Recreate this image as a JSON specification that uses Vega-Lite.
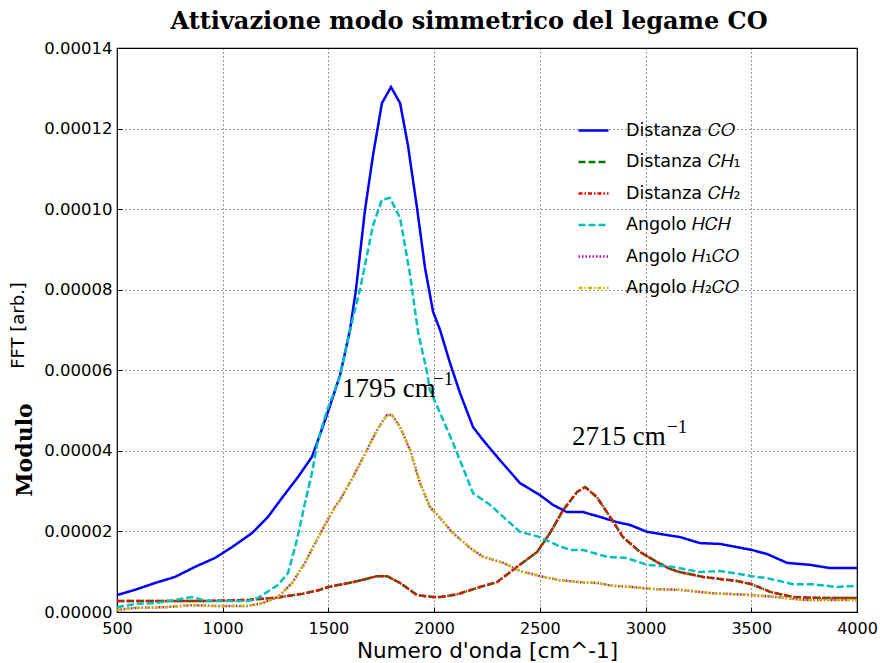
{
  "$schema": "https://vega.github.io/schema/vega-lite/v6.json",
  "width": 740,
  "height": 564,
  "autosize": {"type": "none"},
  "padding": {"left": 117, "top": 48, "right": 23, "bottom": 51},
  "background": "white",
  "title": {"text": "Attivazione modo simmetrico del legame CO", "font": "DejaVu Serif", "fontSize": 24, "fontWeight": "bold", "color": "black", "offset": 6, "dx": -18},
  "config": {
    "view": {"stroke": "black", "strokeWidth": 1.2},
    "axis": {
      "domain": false,
      "grid": true,
      "gridColor": "#000000",
      "gridDash": [1, 3],
      "gridOpacity": 0.8,
      "gridWidth": 1,
      "ticks": true,
      "tickColor": "#000000",
      "tickSize": -5,
      "labelFont": "DejaVu Sans",
      "labelFontSize": 17,
      "labelColor": "#000000",
      "labelFlush": false,
      "titleColor": "#000000",
      "titleFont": "DejaVu Sans",
      "titleFontWeight": "normal",
      "titleFontSize": 18
    },
    "legend": {
      "orient": "none",
      "legendX": 460,
      "legendY": 66,
      "padding": 0,
      "symbolType": "stroke",
      "symbolSize": 900,
      "symbolStrokeWidth": 2.5,
      "rowPadding": 6.5,
      "labelFont": "DejaVu Sans",
      "labelFontSize": 17.5,
      "labelColor": "#000000",
      "labelOffset": 16,
      "labelLimit": 300
    }
  },
  "layer": [
    {
      "data": {"values": [
        {"s":"CO","x":500,"y":0.42e-5},{"s":"CO","x":585,"y":0.55e-5},{"s":"CO","x":680,"y":0.72e-5},{"s":"CO","x":774,"y":0.87e-5},{"s":"CO","x":869,"y":1.12e-5},{"s":"CO","x":963,"y":1.34e-5},{"s":"CO","x":1044,"y":1.61e-5},{"s":"CO","x":1139,"y":1.96e-5},{"s":"CO","x":1214,"y":2.36e-5},{"s":"CO","x":1280,"y":2.83e-5},{"s":"CO","x":1356,"y":3.35e-5},{"s":"CO","x":1422,"y":3.85e-5},{"s":"CO","x":1451,"y":4.27e-5},{"s":"CO","x":1500,"y":5.0e-5},{"s":"CO","x":1555,"y":5.88e-5},{"s":"CO","x":1602,"y":7.0e-5},{"s":"CO","x":1630,"y":7.99e-5},{"s":"CO","x":1673,"y":9.98e-5},{"s":"CO","x":1711,"y":11.34e-5},{"s":"CO","x":1753,"y":12.63e-5},{"s":"CO","x":1796,"y":13.03e-5},{"s":"CO","x":1839,"y":12.63e-5},{"s":"CO","x":1876,"y":11.59e-5},{"s":"CO","x":1919,"y":10.03e-5},{"s":"CO","x":1957,"y":8.54e-5},{"s":"CO","x":1995,"y":7.45e-5},{"s":"CO","x":2028,"y":7.0e-5},{"s":"CO","x":2075,"y":6.18e-5},{"s":"CO","x":2122,"y":5.44e-5},{"s":"CO","x":2184,"y":4.59e-5},{"s":"CO","x":2231,"y":4.27e-5},{"s":"CO","x":2311,"y":3.77e-5},{"s":"CO","x":2406,"y":3.2e-5},{"s":"CO","x":2501,"y":2.9e-5},{"s":"CO","x":2562,"y":2.66e-5},{"s":"CO","x":2628,"y":2.48e-5},{"s":"CO","x":2704,"y":2.48e-5},{"s":"CO","x":2785,"y":2.36e-5},{"s":"CO","x":2865,"y":2.23e-5},{"s":"CO","x":2927,"y":2.16e-5},{"s":"CO","x":3007,"y":1.99e-5},{"s":"CO","x":3101,"y":1.91e-5},{"s":"CO","x":3163,"y":1.86e-5},{"s":"CO","x":3257,"y":1.71e-5},{"s":"CO","x":3352,"y":1.69e-5},{"s":"CO","x":3503,"y":1.54e-5},{"s":"CO","x":3574,"y":1.44e-5},{"s":"CO","x":3669,"y":1.22e-5},{"s":"CO","x":3778,"y":1.17e-5},{"s":"CO","x":3872,"y":1.09e-5},{"s":"CO","x":4000,"y":1.09e-5},

        {"s":"CH1","x":500,"y":0.27e-5},{"s":"CH1","x":650,"y":0.27e-5},{"s":"CH1","x":883,"y":0.27e-5},{"s":"CH1","x":1120,"y":0.3e-5},{"s":"CH1","x":1247,"y":0.35e-5},{"s":"CH1","x":1375,"y":0.45e-5},{"s":"CH1","x":1460,"y":0.55e-5},{"s":"CH1","x":1498,"y":0.62e-5},{"s":"CH1","x":1616,"y":0.74e-5},{"s":"CH1","x":1730,"y":0.89e-5},{"s":"CH1","x":1777,"y":0.89e-5},{"s":"CH1","x":1839,"y":0.72e-5},{"s":"CH1","x":1919,"y":0.42e-5},{"s":"CH1","x":1995,"y":0.37e-5},{"s":"CH1","x":2028,"y":0.37e-5},{"s":"CH1","x":2110,"y":0.44e-5},{"s":"CH1","x":2217,"y":0.62e-5},{"s":"CH1","x":2297,"y":0.74e-5},{"s":"CH1","x":2392,"y":1.12e-5},{"s":"CH1","x":2487,"y":1.49e-5},{"s":"CH1","x":2548,"y":1.96e-5},{"s":"CH1","x":2610,"y":2.53e-5},{"s":"CH1","x":2676,"y":2.98e-5},{"s":"CH1","x":2714,"y":3.1e-5},{"s":"CH1","x":2770,"y":2.85e-5},{"s":"CH1","x":2832,"y":2.36e-5},{"s":"CH1","x":2893,"y":1.86e-5},{"s":"CH1","x":2974,"y":1.49e-5},{"s":"CH1","x":3054,"y":1.24e-5},{"s":"CH1","x":3116,"y":1.07e-5},{"s":"CH1","x":3163,"y":0.99e-5},{"s":"CH1","x":3272,"y":0.87e-5},{"s":"CH1","x":3432,"y":0.77e-5},{"s":"CH1","x":3503,"y":0.69e-5},{"s":"CH1","x":3589,"y":0.5e-5},{"s":"CH1","x":3697,"y":0.37e-5},{"s":"CH1","x":3825,"y":0.35e-5},{"s":"CH1","x":4000,"y":0.35e-5},

        {"s":"CH2","x":500,"y":0.27e-5},{"s":"CH2","x":650,"y":0.27e-5},{"s":"CH2","x":883,"y":0.27e-5},{"s":"CH2","x":1120,"y":0.3e-5},{"s":"CH2","x":1247,"y":0.35e-5},{"s":"CH2","x":1375,"y":0.45e-5},{"s":"CH2","x":1460,"y":0.55e-5},{"s":"CH2","x":1498,"y":0.62e-5},{"s":"CH2","x":1616,"y":0.74e-5},{"s":"CH2","x":1730,"y":0.89e-5},{"s":"CH2","x":1777,"y":0.89e-5},{"s":"CH2","x":1839,"y":0.72e-5},{"s":"CH2","x":1919,"y":0.42e-5},{"s":"CH2","x":1995,"y":0.37e-5},{"s":"CH2","x":2028,"y":0.37e-5},{"s":"CH2","x":2110,"y":0.44e-5},{"s":"CH2","x":2217,"y":0.62e-5},{"s":"CH2","x":2297,"y":0.74e-5},{"s":"CH2","x":2392,"y":1.12e-5},{"s":"CH2","x":2487,"y":1.49e-5},{"s":"CH2","x":2548,"y":1.96e-5},{"s":"CH2","x":2610,"y":2.53e-5},{"s":"CH2","x":2676,"y":2.98e-5},{"s":"CH2","x":2714,"y":3.1e-5},{"s":"CH2","x":2770,"y":2.85e-5},{"s":"CH2","x":2832,"y":2.36e-5},{"s":"CH2","x":2893,"y":1.86e-5},{"s":"CH2","x":2974,"y":1.49e-5},{"s":"CH2","x":3054,"y":1.24e-5},{"s":"CH2","x":3116,"y":1.07e-5},{"s":"CH2","x":3163,"y":0.99e-5},{"s":"CH2","x":3272,"y":0.87e-5},{"s":"CH2","x":3432,"y":0.77e-5},{"s":"CH2","x":3503,"y":0.69e-5},{"s":"CH2","x":3589,"y":0.5e-5},{"s":"CH2","x":3697,"y":0.37e-5},{"s":"CH2","x":3825,"y":0.35e-5},{"s":"CH2","x":4000,"y":0.35e-5},

        {"s":"HCH","x":500,"y":0.12e-5},{"s":"HCH","x":585,"y":0.2e-5},{"s":"HCH","x":680,"y":0.22e-5},{"s":"HCH","x":774,"y":0.3e-5},{"s":"HCH","x":855,"y":0.37e-5},{"s":"HCH","x":930,"y":0.27e-5},{"s":"HCH","x":1025,"y":0.27e-5},{"s":"HCH","x":1120,"y":0.27e-5},{"s":"HCH","x":1167,"y":0.35e-5},{"s":"HCH","x":1261,"y":0.67e-5},{"s":"HCH","x":1309,"y":0.97e-5},{"s":"HCH","x":1351,"y":1.79e-5},{"s":"HCH","x":1389,"y":2.7e-5},{"s":"HCH","x":1422,"y":3.45e-5},{"s":"HCH","x":1451,"y":4.27e-5},{"s":"HCH","x":1493,"y":5.0e-5},{"s":"HCH","x":1555,"y":5.85e-5},{"s":"HCH","x":1602,"y":7.0e-5},{"s":"HCH","x":1649,"y":8.0e-5},{"s":"HCH","x":1711,"y":9.6e-5},{"s":"HCH","x":1753,"y":10.23e-5},{"s":"HCH","x":1791,"y":10.28e-5},{"s":"HCH","x":1839,"y":9.78e-5},{"s":"HCH","x":1886,"y":8.37e-5},{"s":"HCH","x":1924,"y":6.95e-5},{"s":"HCH","x":1966,"y":5.96e-5},{"s":"HCH","x":1980,"y":5.51e-5},{"s":"HCH","x":2028,"y":4.94e-5},{"s":"HCH","x":2089,"y":4.2e-5},{"s":"HCH","x":2184,"y":2.95e-5},{"s":"HCH","x":2264,"y":2.66e-5},{"s":"HCH","x":2344,"y":2.28e-5},{"s":"HCH","x":2406,"y":1.99e-5},{"s":"HCH","x":2501,"y":1.86e-5},{"s":"HCH","x":2581,"y":1.66e-5},{"s":"HCH","x":2643,"y":1.54e-5},{"s":"HCH","x":2704,"y":1.54e-5},{"s":"HCH","x":2818,"y":1.37e-5},{"s":"HCH","x":2912,"y":1.34e-5},{"s":"HCH","x":3007,"y":1.17e-5},{"s":"HCH","x":3130,"y":1.12e-5},{"s":"HCH","x":3257,"y":0.99e-5},{"s":"HCH","x":3352,"y":1.02e-5},{"s":"HCH","x":3503,"y":0.89e-5},{"s":"HCH","x":3574,"y":0.84e-5},{"s":"HCH","x":3697,"y":0.69e-5},{"s":"HCH","x":3792,"y":0.69e-5},{"s":"HCH","x":3905,"y":0.62e-5},{"s":"HCH","x":4000,"y":0.65e-5},

        {"s":"H1CO","x":500,"y":0.05e-5},{"s":"H1CO","x":585,"y":0.1e-5},{"s":"H1CO","x":727,"y":0.12e-5},{"s":"H1CO","x":855,"y":0.17e-5},{"s":"H1CO","x":963,"y":0.15e-5},{"s":"H1CO","x":1120,"y":0.15e-5},{"s":"H1CO","x":1186,"y":0.22e-5},{"s":"H1CO","x":1261,"y":0.37e-5},{"s":"H1CO","x":1328,"y":0.72e-5},{"s":"H1CO","x":1389,"y":1.22e-5},{"s":"H1CO","x":1451,"y":1.85e-5},{"s":"H1CO","x":1531,"y":2.61e-5},{"s":"H1CO","x":1555,"y":2.78e-5},{"s":"H1CO","x":1616,"y":3.35e-5},{"s":"H1CO","x":1682,"y":4.02e-5},{"s":"H1CO","x":1730,"y":4.52e-5},{"s":"H1CO","x":1777,"y":4.89e-5},{"s":"H1CO","x":1801,"y":4.89e-5},{"s":"H1CO","x":1839,"y":4.59e-5},{"s":"H1CO","x":1886,"y":4.02e-5},{"s":"H1CO","x":1933,"y":3.2e-5},{"s":"H1CO","x":1980,"y":2.61e-5},{"s":"H1CO","x":2028,"y":2.33e-5},{"s":"H1CO","x":2089,"y":1.96e-5},{"s":"H1CO","x":2170,"y":1.59e-5},{"s":"H1CO","x":2231,"y":1.37e-5},{"s":"H1CO","x":2326,"y":1.22e-5},{"s":"H1CO","x":2406,"y":1.02e-5},{"s":"H1CO","x":2501,"y":0.89e-5},{"s":"H1CO","x":2595,"y":0.79e-5},{"s":"H1CO","x":2690,"y":0.74e-5},{"s":"H1CO","x":2770,"y":0.72e-5},{"s":"H1CO","x":2846,"y":0.65e-5},{"s":"H1CO","x":2940,"y":0.62e-5},{"s":"H1CO","x":3035,"y":0.57e-5},{"s":"H1CO","x":3163,"y":0.55e-5},{"s":"H1CO","x":3305,"y":0.47e-5},{"s":"H1CO","x":3503,"y":0.42e-5},{"s":"H1CO","x":3622,"y":0.37e-5},{"s":"H1CO","x":3745,"y":0.3e-5},{"s":"H1CO","x":4000,"y":0.3e-5},

        {"s":"H2CO","x":500,"y":0.05e-5},{"s":"H2CO","x":585,"y":0.1e-5},{"s":"H2CO","x":727,"y":0.12e-5},{"s":"H2CO","x":855,"y":0.17e-5},{"s":"H2CO","x":963,"y":0.15e-5},{"s":"H2CO","x":1120,"y":0.15e-5},{"s":"H2CO","x":1186,"y":0.22e-5},{"s":"H2CO","x":1261,"y":0.37e-5},{"s":"H2CO","x":1328,"y":0.72e-5},{"s":"H2CO","x":1389,"y":1.22e-5},{"s":"H2CO","x":1451,"y":1.85e-5},{"s":"H2CO","x":1531,"y":2.61e-5},{"s":"H2CO","x":1555,"y":2.78e-5},{"s":"H2CO","x":1616,"y":3.35e-5},{"s":"H2CO","x":1682,"y":4.02e-5},{"s":"H2CO","x":1730,"y":4.52e-5},{"s":"H2CO","x":1777,"y":4.89e-5},{"s":"H2CO","x":1801,"y":4.89e-5},{"s":"H2CO","x":1839,"y":4.59e-5},{"s":"H2CO","x":1886,"y":4.02e-5},{"s":"H2CO","x":1933,"y":3.2e-5},{"s":"H2CO","x":1980,"y":2.61e-5},{"s":"H2CO","x":2028,"y":2.33e-5},{"s":"H2CO","x":2089,"y":1.96e-5},{"s":"H2CO","x":2170,"y":1.59e-5},{"s":"H2CO","x":2231,"y":1.37e-5},{"s":"H2CO","x":2326,"y":1.22e-5},{"s":"H2CO","x":2406,"y":1.02e-5},{"s":"H2CO","x":2501,"y":0.89e-5},{"s":"H2CO","x":2595,"y":0.79e-5},{"s":"H2CO","x":2690,"y":0.74e-5},{"s":"H2CO","x":2770,"y":0.72e-5},{"s":"H2CO","x":2846,"y":0.65e-5},{"s":"H2CO","x":2940,"y":0.62e-5},{"s":"H2CO","x":3035,"y":0.57e-5},{"s":"H2CO","x":3163,"y":0.55e-5},{"s":"H2CO","x":3305,"y":0.47e-5},{"s":"H2CO","x":3503,"y":0.42e-5},{"s":"H2CO","x":3622,"y":0.37e-5},{"s":"H2CO","x":3745,"y":0.3e-5},{"s":"H2CO","x":4000,"y":0.3e-5}
      ]},
      "mark": {"type": "line", "strokeWidth": 2.5, "clip": true},
      "encoding": {
        "x": {"field": "x", "type": "quantitative", "scale": {"domain": [500, 4000], "nice": false, "zero": false},
              "axis": {"values": [500,1000,1500,2000,2500,3000,3500,4000], "format": "d", "title": "Numero d'onda [cm^-1]", "titleFontSize": 21.5, "labelFontSize": 16, "labelPadding": 13, "titlePadding": 4}},
        "y": {"field": "y", "type": "quantitative", "scale": {"domain": [0, 0.00014], "nice": false},
              "axis": {"values": [0,0.00002,0.00004,0.00006,0.00008,0.0001,0.00012,0.00014], "format": ".5f", "title": "FFT [arb.]", "labelFontSize": 16.5, "labelPadding": 10, "titleX": -99, "titleY": 277, "titleAngle": -90, "titleAlign": "center", "titleBaseline": "middle"}},
        "color": {"field": "s", "type": "nominal",
                  "scale": {"domain": ["CO","CH1","CH2","HCH","H1CO","H2CO"], "range": ["#0000ff","#008000","#ff0000","#00bfbf","#bf00bf","#bfbf00"]},
                  "legend": {"title": null, "labelExpr": "datum.label == 'CO' ? 'Distanza 𝐶𝑂' : datum.label == 'CH1' ? 'Distanza 𝐶𝐻₁' : datum.label == 'CH2' ? 'Distanza 𝐶𝐻₂' : datum.label == 'HCH' ? 'Angolo 𝐻𝐶𝐻' : datum.label == 'H1CO' ? 'Angolo 𝐻₁𝐶𝑂' : 'Angolo 𝐻₂𝐶𝑂'"}},
        "strokeDash": {"field": "s", "type": "nominal",
                  "scale": {"domain": ["CO","CH1","CH2","HCH","H1CO","H2CO"], "range": [[1,0],[7,3],[4,2,1.5,2],[7,3],[1.5,2],[4,2,1.5,2]]},
                  "legend": {"title": null, "labelExpr": "datum.label == 'CO' ? 'Distanza 𝐶𝑂' : datum.label == 'CH1' ? 'Distanza 𝐶𝐻₁' : datum.label == 'CH2' ? 'Distanza 𝐶𝐻₂' : datum.label == 'HCH' ? 'Angolo 𝐻𝐶𝐻' : datum.label == 'H1CO' ? 'Angolo 𝐻₁𝐶𝑂' : 'Angolo 𝐻₂𝐶𝑂'"}}
      }
    },
    {
      "data": {"values": [{}]},
      "mark": {"type": "text", "font": "Liberation Serif", "fontSize": 27, "align": "left", "baseline": "alphabetic", "color": "black", "clip": false},
      "encoding": {"x": {"datum": 1564, "type": "quantitative"}, "y": {"datum": 5.337e-5, "type": "quantitative"}, "text": {"value": "1795 cm"}}
    },
    {
      "data": {"values": [{}]},
      "mark": {"type": "text", "font": "Liberation Serif", "fontSize": 19, "align": "left", "baseline": "alphabetic", "color": "black", "clip": false},
      "encoding": {"x": {"datum": 1995, "type": "quantitative"}, "y": {"datum": 5.635e-5, "type": "quantitative"}, "text": {"value": "−1"}}
    },
    {
      "data": {"values": [{}]},
      "mark": {"type": "text", "font": "Liberation Serif", "fontSize": 27, "align": "left", "baseline": "alphabetic", "color": "black", "clip": false},
      "encoding": {"x": {"datum": 2652, "type": "quantitative"}, "y": {"datum": 4.145e-5, "type": "quantitative"}, "text": {"value": "2715 cm"}}
    },
    {
      "data": {"values": [{}]},
      "mark": {"type": "text", "font": "Liberation Serif", "fontSize": 19, "align": "left", "baseline": "alphabetic", "color": "black", "clip": false},
      "encoding": {"x": {"datum": 3101, "type": "quantitative"}, "y": {"datum": 4.443e-5, "type": "quantitative"}, "text": {"value": "−1"}}
    },
    {
      "data": {"values": [{}]},
      "mark": {"type": "text", "font": "DejaVu Serif", "fontSize": 22, "fontWeight": "bold", "angle": 270, "align": "center", "baseline": "middle", "color": "black", "clip": false},
      "encoding": {"x": {"datum": 65, "type": "quantitative"}, "y": {"datum": 4.02e-5, "type": "quantitative"}, "text": {"value": "Modulo"}}
    }
  ]
}
